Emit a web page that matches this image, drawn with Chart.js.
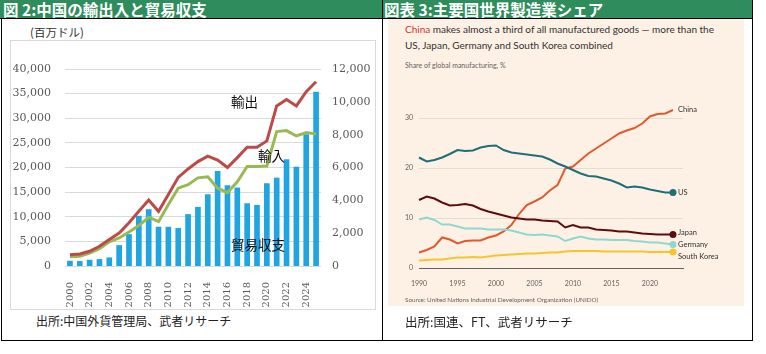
<!DOCTYPE html>
<html>
<head>
<meta charset="utf-8">
<script src="https://cdn.jsdelivr.net/npm/chart.js@4/dist/chart.umd.min.js"></script>
<style>
    body { margin: 0; width: 766px; height: 354px; background: #fff; position: relative; overflow: hidden; font-family: "Noto Sans CJK JP", sans-serif; }
    .abs { position: absolute; white-space: nowrap; line-height: 1; }
    .bar { background: #2f8c5c; color: #fff; font-weight: bold; font-size: 15.5px; height: 18px; top: 0; line-height: 18px; }
    .line { background: #000; }
    .ft { font-family: Lato, "Open Sans", sans-serif; color: #33302e; }
</style>
</head>
<body>
<!-- title bars -->
<div class="abs bar" style="left:0; width:382px; padding-left:3px; box-sizing:border-box;">図 2:中国の輸出入と貿易収支</div>
<div class="abs bar" style="left:383px; width:369px; padding-left:1px; box-sizing:border-box;">図表 3:主要国世界製造業シェア</div>

<!-- frame lines -->
<div class="abs line" style="left:0; top:18px; width:753px; height:1px;"></div>
<div class="abs line" style="left:1px; top:18px; width:1px; height:323px;"></div>
<div class="abs line" style="left:382px; top:0; width:1px; height:341px;"></div>
<div class="abs line" style="left:752px; top:0; width:1px; height:341px;"></div>
<div class="abs line" style="left:1px; top:340px; width:752px; height:1px;"></div>

<!-- left panel -->
<div class="abs" style="left:30px; top:27px; font-size:11.5px; color:#333;">(百万ドル)</div>
<div class="abs" style="left:10px; top:40px; width:364px; height:268px; border:1px solid #d9d9d9;"></div>
<canvas id="tradeChart" class="abs" style="left:10px; top:40px;" width="365" height="270"></canvas>
<div class="abs" style="left:231px; top:95px; font-size:13.5px; color:#111;">輸出</div>
<div class="abs" style="left:258px; top:149px; font-size:13.5px; color:#111;">輸入</div>
<div class="abs" style="left:231px; top:238px; font-size:13.5px; color:#111;">貿易収支</div>
<div class="abs" style="left:36px; top:315px; font-size:12px; color:#222;">出所:中国外貨管理局、武者リサーチ</div>

<!-- right panel -->
<div class="abs" style="left:388px; top:19px; width:356px; height:287px; background:#fdf1e6;"></div>
<div class="abs ft" style="left:405px; top:24px; font-size:10px;"><span style="color:#c8372d;">China</span> makes almost a third of all manufactured goods — more than the</div>
<div class="abs ft" style="left:405px; top:40px; font-size:10px;">US, Japan, Germany and South Korea combined</div>
<div class="abs ft" style="left:405px; top:62px; font-size:7px; color:#66605c;">Share of global manufacturing, %</div>
<canvas id="mfgChart" class="abs" style="left:388px; top:80px;" width="356" height="225"></canvas>
<div class="abs ft" style="left:405px; top:297px; font-size:6.3px; color:#66605c;">Source: United Nations Industrial Development Organization (UNIDO)</div>
<div class="abs" style="left:405px; top:316px; font-size:12.5px; color:#222;">出所:国連、FT、武者リサーチ</div>

<script>
// ---- 図 2 data ----
const years = ['2000', '2001', '2002', '2003', '2004', '2005', '2006', '2007', '2008', '2009',
    '2010', '2011', '2012', '2013', '2014', '2015', '2016', '2017', '2018', '2019',
    '2020', '2021', '2022', '2023', '2024', '2025'];
const exportsData = [2300, 2450, 3000, 4000, 5400, 6700, 8800, 11100, 13400, 11100,
    14500, 18000, 19700, 21200, 22300, 21500, 20000, 22000, 24100, 24100,
    25400, 32500, 33800, 32500, 35400, 37400];
const importsData = [1900, 2000, 2600, 3500, 4900, 5700, 6900, 8200, 9900, 9000,
    12500, 15800, 16500, 17900, 18100, 15800, 14900, 17100, 20200, 20200,
    20300, 27300, 27500, 26400, 27100, 26800];
const balanceData = [300, 280, 360, 400, 500, 1250, 1920, 3040, 3440, 2370,
    2370, 2290, 3140, 3580, 4350, 5770, 4900, 4760, 3800, 3700,
    5020, 5360, 6480, 6030, 8000, 10590];

// ---- 図表 3 data ----
const mfgYears = [1990, 1991, 1992, 1993, 1994, 1995, 1996, 1997, 1998, 1999,
    2000, 2001, 2002, 2003, 2004, 2005, 2006, 2007, 2008, 2009,
    2010, 2011, 2012, 2013, 2014, 2015, 2016, 2017, 2018, 2019,
    2020, 2021, 2022, 2023];
const chinaShare = [3.1, 3.6, 4.3, 6.1, 5.7, 4.9, 5.4, 5.5, 5.5, 6.1,
    6.5, 7.3, 8.6, 10.8, 12.6, 13.3, 14.1, 15.5, 16.6, 19.9,
    20.3, 21.6, 22.9, 23.9, 24.9, 25.9, 26.9, 27.5, 28.0, 28.9,
    30.3, 30.8, 30.9, 31.6];
const usShare = [22.1, 21.3, 21.6, 22.1, 22.8, 23.6, 23.4, 23.5, 24.1, 24.4,
    24.5, 23.6, 23.1, 22.9, 22.7, 22.5, 22.3, 21.7, 20.9, 20.3,
    19.6, 18.9, 18.4, 18.3, 17.9, 17.5, 16.9, 16.1, 16.3, 16.1,
    15.7, 15.4, 15.1, 15.1];
const japanShare = [13.6, 14.3, 13.9, 13.1, 12.5, 12.6, 12.8, 12.5, 11.8, 11.3,
    10.9, 10.5, 10.1, 9.9, 9.7, 9.7, 9.5, 9.4, 9.3, 8.1,
    8.6, 8.1, 8.1, 7.7, 7.6, 7.5, 7.3, 7.3, 7.1, 6.9,
    6.8, 6.7, 6.7, 6.7];
const germanyShare = [9.7, 10.1, 9.6, 8.7, 8.7, 8.3, 7.9, 7.9, 7.9, 7.7,
    7.7, 7.7, 7.5, 7.1, 6.7, 6.6, 6.7, 6.5, 6.3, 5.4,
    5.9, 6.3, 5.9, 5.7, 5.7, 5.6, 5.6, 5.6, 5.4, 5.3,
    5.1, 5.1, 4.9, 4.7];
const koreaShare = [1.5, 1.6, 1.7, 1.7, 1.9, 2.1, 2.1, 2.2, 2.1, 2.3,
    2.5, 2.6, 2.7, 2.8, 2.9, 2.9, 3.0, 3.1, 3.1, 3.3,
    3.4, 3.4, 3.4, 3.4, 3.3, 3.3, 3.3, 3.3, 3.3, 3.3,
    3.2, 3.2, 3.2, 3.2];
const mfgXTicks = [1990, 1995, 2000, 2005, 2010, 2015, 2020];
const mfgYTicks = [0, 10, 20, 30];

Chart.defaults.animation = false;
Chart.defaults.plugins.legend.display = false;
Chart.defaults.plugins.tooltip.enabled = false;

let serif = { family: '"DejaVu Serif", serif', size: 11 };

let tradeChart = new Chart(document.getElementById('tradeChart'), {
    type: 'bar',
    data: {
        labels: years,
        datasets: [{
            type: 'line',
            label: '輸出',
            data: exportsData,
            yAxisID: 'y',
            borderColor: '#bc4b47',
            borderWidth: 3,
            pointRadius: 0,
            tension: 0,
            order: 0
        }, {
            type: 'line',
            label: '輸入',
            data: importsData,
            yAxisID: 'y',
            borderColor: '#98b954',
            borderWidth: 3,
            pointRadius: 0,
            tension: 0,
            order: 0
        }, {
            label: '貿易収支',
            data: balanceData,
            yAxisID: 'y1',
            backgroundColor: '#1fa5df',
            barThickness: 5,
            order: 1
        }]
    },
    options: {
        responsive: false,
        layout: { padding: { top: 29, left: 0, right: 0, bottom: 0 } },
        scales: {
            x: {
                grid: { display: false },
                border: { display: false },
                ticks: {
                    autoSkip: false,
                    minRotation: 90,
                    maxRotation: 90,
                    padding: 8,
                    color: '#595959',
                    font: { family: '"DejaVu Serif", serif', size: 10 },
                    callback: function (v, i) { return i % 2 === 0 ? years[i] : ''; }
                },
                afterFit: function (s) { s.height = 44; }
            },
            y: {
                position: 'left',
                min: 0, max: 40000,
                grid: { color: '#d9d9d9', drawTicks: false },
                border: { display: false },
                ticks: {
                    stepSize: 5000,
                    padding: 14,
                    color: '#595959',
                    font: serif,
                    callback: v => v.toLocaleString('en-US')
                },
                afterFit: function (s) { s.width = 55; }
            },
            y1: {
                position: 'right',
                min: 0, max: 12000,
                grid: { display: false, drawTicks: false },
                border: { display: false },
                ticks: {
                    stepSize: 2000,
                    padding: 11,
                    color: '#595959',
                    font: serif,
                    callback: v => v.toLocaleString('en-US')
                },
                afterFit: function (s) { s.width = 54; }
            }
        }
    }
});

// FT-style chart
let endLabelOffset = { 'China': 0, 'US': 0, 'Japan': -2, 'Germany': 0, 'South Korea': 5 };

let endLabels = {
    id: 'endLabels',
    afterDatasetsDraw(chart) {
        let ctx = chart.ctx;
        ctx.save();
        ctx.font = '7.5px Lato, "Open Sans", sans-serif';
        ctx.fillStyle = '#33302e';
        ctx.textBaseline = 'middle';
        chart.data.datasets.forEach((ds, i) => {
            let pts = chart.getDatasetMeta(i).data;
            let p = pts[pts.length - 1];
            ctx.fillText(ds.label, p.x + 5, p.y + (endLabelOffset[ds.label] || 0));
        });
        ctx.restore();
    }
};

function mfgSeries(label, values, color) {
    return {
        label: label,
        data: mfgYears.map((yr, i) => ({ x: yr, y: values[i] })),
        borderColor: color,
        backgroundColor: color,
        borderWidth: 2,
        tension: 0,
        clip: false,
        pointRadius: c => c.dataIndex === mfgYears.length - 1 ? 3.5 : 0,
        pointBorderWidth: 0
    };
}

let mfgChart = new Chart(document.getElementById('mfgChart'), {
    type: 'line',
    data: {
        datasets: [
            mfgSeries('South Korea', koreaShare, '#f5c52e'),
            mfgSeries('Germany', germanyShare, '#8fd8d2'),
            mfgSeries('Japan', japanShare, '#5c0d0f'),
            mfgSeries('US', usShare, '#1f6e78'),
            mfgSeries('China', chinaShare, '#e05a2e')
        ]
    },
    options: {
        responsive: false,
        layout: { padding: { top: 38, right: 61, left: 0, bottom: 0 } },
        scales: {
            x: {
                type: 'linear',
                min: 1990, max: 2024.3,
                grid: { display: false },
                border: { color: '#66605c', width: 1 },
                afterBuildTicks: s => { s.ticks = mfgXTicks.map(v => ({ value: v })); },
                ticks: {
                    padding: 4,
                    color: '#66605c',
                    font: { family: 'Lato, "Open Sans", sans-serif', size: 7 },
                    callback: v => String(v)
                },
                afterFit: function (s) { s.height = 37; }
            },
            y: {
                min: 0, max: 30,
                grid: { color: '#e6dbd1', drawTicks: false },
                border: { display: false },
                afterBuildTicks: s => { s.ticks = mfgYTicks.map(v => ({ value: v })); },
                ticks: {
                    padding: 6,
                    color: '#66605c',
                    font: { family: 'Lato, "Open Sans", sans-serif', size: 7 }
                },
                afterFit: function (s) { s.width = 31; }
            }
        }
    },
    plugins: [endLabels]
});
</script>
</body>
</html>
